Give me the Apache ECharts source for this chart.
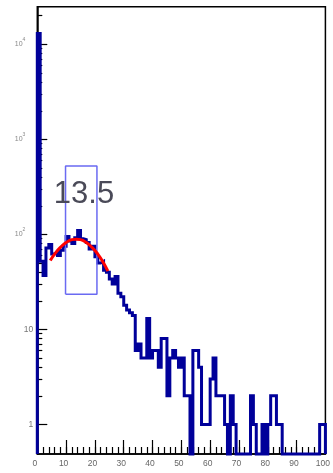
<!DOCTYPE html>
<html><head><meta charset="utf-8">
<script src="https://cdn.jsdelivr.net/npm/echarts@6/dist/echarts.min.js"></script>
<style>html,body{margin:0;padding:0;background:#fff}#c{width:333px;height:473px}</style>
</head><body><div id="c"></div>
<script>
// histogram: 100 bins of width 1 from 0 to 100
const xMin = 0, xMax = 100;
const counts = [
  13000, 52, 37, 72, 78, 62, 65, 60, 68, 75,
  95, 85, 80, 92, 110, 90, 88, 82, 70, 75,
  58, 50, 52, 42, 40, 34, 30, 36, 24, 22,
  18, 16, 15, 14, 6, 7, 5, 5, 13, 5,
  6, 6, 4, 8, 8, 2, 5, 6, 5, 4,
  5, 2, 2, 0, 6, 6, 4, 1, 1, 1,
  3, 5, 2, 2, 2, 1, 0, 2, 1, 0,
  0, 0, 0, 0, 2, 1, 0, 0, 1, 0,
  1, 2, 2, 1, 1, 0, 0, 0, 0, 0,
  0, 0, 0, 0, 0, 0, 0, 0, 1, 1
];
// gaussian fit curve (red)
const fitX = [4.5, 6, 8, 10, 12, 13.5, 15, 17, 19, 21, 23, 24.5];
const fitY = [53, 62, 73, 82, 88, 89, 88, 82, 73, 62, 50, 41];
// blue box
const boxX = [9.8, 20.7];
const boxY = [23.5, 525];
const boxLabel = '13.5';
// axis
const yMin = 0.488, yMax = 24900;
const yMajor = [1, 10, 100, 1000, 10000];
const yMinor = [];
[1, 10, 100, 1000, 10000].forEach(d => { for (let k = 2; k <= 9; k++) { if (k * d < yMax) yMinor.push(k * d); } });

const histPts = [[xMin, yMin]];
counts.forEach((c, i) => {
  const v = c > 0 ? c : yMin;
  histPts.push([xMin + i, v], [xMin + i + 1, v]);
});
histPts.push([xMax, yMin]);
const boxPts = [[boxX[0], boxY[0]], [boxX[0], boxY[1]], [boxX[1], boxY[1]], [boxX[1], boxY[0]], [boxX[0], boxY[0]]];
const fitPts = fitX.map((x, i) => [x, fitY[i]]);

const chart = echarts.init(document.getElementById('c'), null, {renderer: 'canvas'});
const FONT = 'Liberation Sans';
chart.setOption({
  animation: false,
  grid: {left: 37.3, right: 1.3, top: 6.7, bottom: 19, show: true, borderColor: '#000', borderWidth: 1.5, backgroundColor: 'transparent'},
  xAxis: [
    {type: 'value', min: xMin, max: xMax, interval: 10, position: 'bottom',
     axisLine: {show: true, lineStyle: {color: '#000', width: 1.5}},
     axisTick: {show: true, inside: true, length: 14, lineStyle: {color: '#000', width: 1.2}},
     axisLabel: {show: true, color: '#666', fontFamily: FONT, fontSize: 8.5, margin: 5, padding: [0, 5, 0, 0]},
     splitLine: {show: false}},
    {type: 'value', min: xMin, max: xMax, interval: 2, position: 'bottom',
     axisLine: {show: false},
     axisTick: {show: true, inside: true, length: 7, lineStyle: {color: '#000', width: 1.2}},
     axisLabel: {show: false}, splitLine: {show: false}}
  ],
  yAxis: [
    {type: 'log', logBase: 10, min: yMin, max: yMax, position: 'left',
     axisLine: {show: true, lineStyle: {color: '#000', width: 1.5}},
     axisTick: {show: true, inside: true, length: 10, customValues: yMajor, lineStyle: {color: '#000', width: 1.2}},
     axisLabel: {show: true, customValues: yMajor, margin: 4, color: '#777', fontFamily: FONT,
       formatter: function (v) {
         const e = Math.round(Math.log10(v));
         if (e === 0) return '{p|1}';
         if (e === 1) return '{p|10}';
         return '{b|10}{s|' + e + '}';
       },
       rich: {
         p: {fontSize: 8.5, color: '#777', fontFamily: FONT},
         b: {fontSize: 7, color: '#888', fontFamily: FONT, lineHeight: 14},
         s: {fontSize: 5, color: '#888', fontFamily: FONT, verticalAlign: 'top', lineHeight: 8, padding: [0, 8, 0, 0]}
       }},
     splitLine: {show: false}},
    {type: 'log', logBase: 10, min: yMin, max: yMax, position: 'left',
     axisLine: {show: false},
     axisTick: {show: true, inside: true, length: 5, customValues: yMinor, lineStyle: {color: '#000', width: 1.2}},
     axisLabel: {show: false, customValues: yMinor}, splitLine: {show: false}}
  ],
  series: [
    {type: 'line', name: 'hist', data: histPts, xAxisIndex: 0, yAxisIndex: 0, showSymbol: false, symbol: 'none',
     clip: false, z: 3, lineStyle: {color: '#00009a', width: 3, join: 'miter', cap: 'butt'}},
    {type: 'line', name: 'box', data: boxPts, showSymbol: false, symbol: 'none', z: 4,
     lineStyle: {color: '#6a6af2', width: 1.5}},
    {type: 'line', name: 'fit', data: fitPts, smooth: true, showSymbol: false, symbol: 'none', z: 5,
     lineStyle: {color: '#ff0000', width: 3}}
  ],
  graphic: [
    {type: 'text', x: 84, y: 194, z: 10,
     style: {text: boxLabel, fill: '#4a4a58', font: '31px "Liberation Sans"', textAlign: 'center', textVerticalAlign: 'middle'}}
  ]
});
</script></body></html>
